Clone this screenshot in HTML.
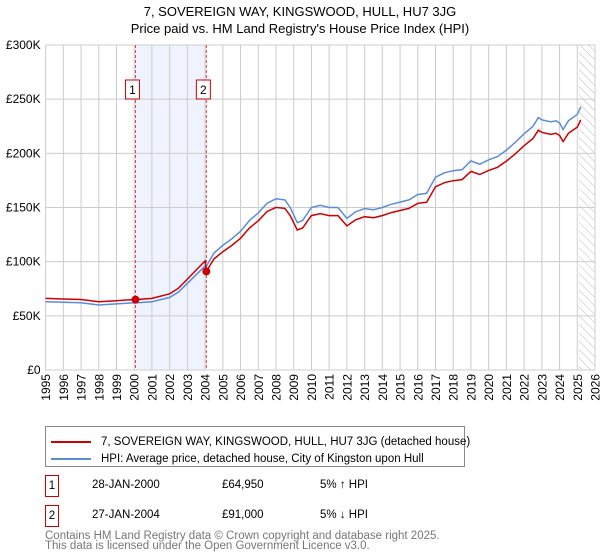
<!DOCTYPE html>
<html><head><meta charset="utf-8"><style>
body{margin:0;background:#fff;font-family:"Liberation Sans","DejaVu Sans",sans-serif;}
#wrap{position:relative;width:600px;height:560px;overflow:hidden}
.t{position:absolute;font-size:12px;color:#000;white-space:nowrap}
</style></head><body><div id="wrap">
<div class="t" style="left:0;width:600px;text-align:center;top:4px;font-size:13px">7, SOVEREIGN WAY, KINGSWOOD, HULL, HU7 3JG</div>
<div class="t" style="left:0;width:600px;text-align:center;top:21px;font-size:13px">Price paid vs. HM Land Registry's House Price Index (HPI)</div>
<svg id="chart" width="600" height="410" style="position:absolute;left:0;top:0"></svg>
<div style="position:absolute;left:45px;top:426px;width:420px;height:41px;border:1px solid #888;box-sizing:border-box">
 <div style="position:absolute;left:5px;top:6px;width:420px"><span style="display:inline-block;width:40px;height:2px;background:#cc0000;vertical-align:middle"></span><span style="font-size:11.5px;margin-left:10px;vertical-align:middle">7, SOVEREIGN WAY, KINGSWOOD, HULL, HU7 3JG (detached house)</span></div>
 <div style="position:absolute;left:5px;top:23px;width:420px"><span style="display:inline-block;width:40px;height:2px;background:#5b8dd6;vertical-align:middle"></span><span style="font-size:11.5px;margin-left:10px;vertical-align:middle">HPI: Average price, detached house, City of Kingston upon Hull</span></div>
</div>
<div>
<div class="t" style="left:45px;top:475px;width:12px;height:20px;border:1px solid #cc0000;text-align:center;line-height:20px;font-size:11.5px">1</div>
<div class="t" style="left:92px;top:479px;font-size:11.5px">28-JAN-2000</div>
<div class="t" style="left:222px;top:479px;font-size:11.5px">£64,950</div>
<div class="t" style="left:320px;top:479px;font-size:11.5px">5% ↑ HPI</div>
</div>
<div>
<div class="t" style="left:45px;top:505px;width:12px;height:20px;border:1px solid #cc0000;text-align:center;line-height:20px;font-size:11.5px">2</div>
<div class="t" style="left:92px;top:509px;font-size:11.5px">27-JAN-2004</div>
<div class="t" style="left:222px;top:509px;font-size:11.5px">£91,000</div>
<div class="t" style="left:320px;top:509px;font-size:11.5px">5% ↓ HPI</div>
</div>
<div class="t" style="left:45px;top:531px;font-size:11.5px;color:#777;line-height:10px">Contains HM Land Registry data © Crown copyright and database right 2025.<br>This data is licensed under the Open Government Licence v3.0.</div>
</div>
<script>
const hpiYears=[1995,1996,1997,1998,1999,2000,2000.07,2001,2002,2002.5,2003,2003.5,2004,2004.07,2004.5,2005,2005.5,2006,2006.5,2007,2007.5,2008,2008.5,2008.8,2009.2,2009.5,2010,2010.5,2011,2011.5,2012,2012.5,2013,2013.5,2014,2014.5,2015,2015.5,2016,2016.5,2017,2017.5,2018,2018.5,2019,2019.5,2020,2020.5,2021,2021.5,2022,2022.5,2022.8,2023,2023.5,2023.8,2024,2024.2,2024.5,2025,2025.2];
const hpiValues=[63,62.5,62,60,61,62,61.9,63,67,72,80,88,96,95.8,108,115,121,128,138,145,154,158,157,150,136,138,150,152,150,150,140,146,149,148,150,153,155,157,162,163,178,182,184,185,193,190,194,197,203,210,218,225,233,231,229,230,228,222,230,236,243];
const saleYears=[2000.07,2004.07];
const salePrices=[64.95,91.0];
const saleLabels=["1","2"];
const yTicks=[0,50,100,150,200,250,300];
const yTickLabels=["£0","£50K","£100K","£150K","£200K","£250K","£300K"];
const NS="http://www.w3.org/2000/svg";
const svg=document.getElementById('chart');
const X0=45.6,X1=595,Y0=370,Y1=45,XMIN=1995,XMAX=2026,YMAX=300;
const xs=v=>X0+(v-XMIN)/(XMAX-XMIN)*(X1-X0);
const ys=v=>Y0-v/YMAX*(Y0-Y1);
function mk(t,a,p){const e=document.createElementNS(NS,t);for(const k in a)e.setAttribute(k,a[k]);(p||svg).appendChild(e);return e;}
let band=mk('rect',{x:xs(saleYears[0]),y:Y1,width:xs(saleYears[1])-xs(saleYears[0]),height:Y0-Y1,fill:'#eef3fd'});


const defs=mk('defs',{});
const pat=mk('pattern',{id:'h',width:6,height:6,patternUnits:'userSpaceOnUse',patternTransform:'rotate(-45)'},defs);
mk('line',{x1:0,y1:0,x2:0,y2:6,stroke:'#bbb','stroke-width':1},pat);
let hat=mk('rect',{x:xs(2025.1),y:Y1,width:X1-xs(2025.1),height:Y0-Y1,fill:'url(#h)'});


for(let yr=XMIN;yr<=XMAX;yr++){
 let l=mk('line',{x1:xs(yr),x2:xs(yr),y1:Y1,y2:Y0,stroke:'#ccc','stroke-width':1});
 
 
 const tx=xs(yr)+4.5, ty=374;
 let t=mk('text',{x:tx,y:ty,'text-anchor':'end','font-size':12,'font-family':'Liberation Sans, sans-serif',transform:`rotate(-90 ${tx} ${ty})`});
 t.textContent=yr;
 
 
}
yTicks.forEach((v,i)=>{
 let l=mk('line',{x1:X0,x2:X1,y1:ys(v),y2:ys(v),stroke:'#ccc','stroke-width':1});
 
 
 let t=mk('text',{x:X0-5,y:ys(v)+4,'text-anchor':'end','font-size':12,'font-family':'Liberation Sans, sans-serif'});
 t.textContent=yTickLabels[i];
 
 
});
saleYears.forEach((yr,i)=>{
 let l=mk('line',{x1:xs(yr),x2:xs(yr),y1:Y1,y2:Y0,stroke:'#e04040','stroke-width':1,'stroke-dasharray':'3,2'});
 
 
 let r=mk('rect',{x:xs(yr)-10,y:80,width:14,height:19,fill:'#fff',stroke:'#cc0000'});
 
 
 let t=mk('text',{x:xs(yr)-3,y:94,'text-anchor':'middle','font-size':12,'font-family':'Liberation Sans, sans-serif'});
 t.textContent=saleLabels[i];
});
function interp(x){for(let i=1;i<hpiYears.length;i++){if(x<=hpiYears[i]){const f=(x-hpiYears[i-1])/(hpiYears[i]-hpiYears[i-1]);return hpiValues[i-1]+f*(hpiValues[i]-hpiValues[i-1]);}}return hpiValues[hpiValues.length-1];}
const r1=salePrices[0]/interp(saleYears[0]), r2=salePrices[1]/interp(saleYears[1]);
let hp='',rp='';
hpiYears.forEach((yr,i)=>{
 hp+=(i?'L':'M')+xs(yr).toFixed(1)+','+ys(hpiValues[i]).toFixed(1);
 const rv=hpiValues[i]*(yr<saleYears[1]?r1:r2);
 rp+=(i?'L':'M')+xs(yr).toFixed(1)+','+ys(rv).toFixed(1);
});
let hl=mk('path',{d:hp,fill:'none',stroke:'#5b8dd6','stroke-width':1.5});


let rl=mk('path',{d:rp,fill:'none',stroke:'#cc0000','stroke-width':1.5});


saleYears.forEach((yr,i)=>{
 let c=mk('circle',{cx:xs(yr),cy:ys(salePrices[i]),r:4,fill:'#cc0000'});
 
 
});
</script></body></html>
